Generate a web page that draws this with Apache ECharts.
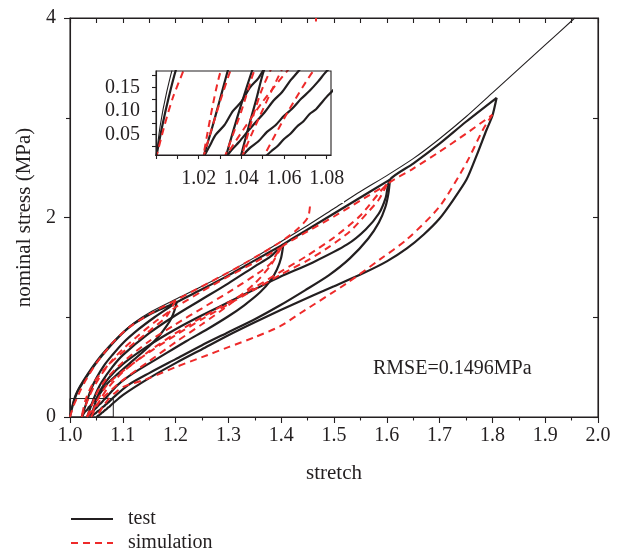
<!DOCTYPE html>
<html>
<head>
<meta charset="utf-8">
<script src="https://cdn.jsdelivr.net/npm/echarts@6.0.0/dist/echarts.min.js"></script>
<style>
  html, body { margin: 0; padding: 0; background: #ffffff; }
  #chart { width: 624px; height: 552px; }
</style>
</head>
<body>
<div id="chart"></div>
<script>
// ---- measured curves: stretch (x) vs nominal stress in MPa (y) ----
// test: monotonic loading
const testMonoX = [1.000,1.002,1.005,1.009,1.015,1.025,1.040,1.060,1.090,1.120,1.155,1.200,1.250,1.300,1.350,1.400,1.450,1.500,1.550,1.600,1.650,1.700,1.750,1.800,1.850,1.900,1.956];
const testMonoY = [0,0.07,0.14,0.21,0.28,0.37,0.49,0.63,0.80,0.94,1.06,1.18,1.31,1.45,1.60,1.76,1.92,2.09,2.26,2.42,2.59,2.79,3.01,3.25,3.49,3.73,4.00];
// test: cyclic loading / unloading
const testLoad1X = [1.000,1.003,1.006,1.0095,1.015,1.025,1.040,1.060,1.090,1.120,1.155,1.180,1.202];
const testLoad1Y = [0,0.07,0.13,0.19,0.26,0.35,0.47,0.61,0.79,0.93,1.04,1.10,1.15];
const testUnload1X = [1.202,1.198,1.192,1.184,1.170,1.150,1.120,1.090,1.070,1.052,1.048,1.044,1.040,1.036,1.032,1.028,1.025,1.022];
const testUnload1Y = [1.15,1.07,0.99,0.92,0.82,0.71,0.57,0.43,0.33,0.20,0.17,0.15,0.12,0.10,0.07,0.05,0.025,0];
const testLoad2X = [1.022,1.026,1.030,1.0336,1.040,1.050,1.065,1.080,1.100,1.130,1.160,1.185,1.202,1.250,1.300,1.350,1.404];
const testLoad2Y = [0,0.06,0.125,0.185,0.28,0.39,0.52,0.62,0.74,0.88,1.00,1.09,1.15,1.28,1.42,1.57,1.73];
const testUnload2X = [1.404,1.400,1.392,1.380,1.360,1.330,1.300,1.260,1.220,1.170,1.120,1.090,1.0668,1.063,1.059,1.055,1.051,1.047,1.043,1.039,1.0355,1.0325];
const testUnload2Y = [1.73,1.60,1.48,1.37,1.25,1.12,1.01,0.88,0.76,0.60,0.44,0.32,0.185,0.165,0.14,0.122,0.098,0.078,0.057,0.035,0.018,0];
const testLoad3X = [1.0325,1.036,1.040,1.045,1.052,1.060,1.080,1.100,1.150,1.200,1.250,1.300,1.350,1.380,1.404,1.450,1.500,1.550,1.606];
const testLoad3Y = [0,0.055,0.115,0.185,0.27,0.35,0.50,0.62,0.84,1.02,1.18,1.34,1.51,1.61,1.73,1.88,2.04,2.20,2.38];
const testUnload3X = [1.606,1.603,1.597,1.585,1.565,1.530,1.490,1.445,1.398,1.350,1.300,1.250,1.200,1.150,1.110,1.080,1.076,1.072,1.068,1.064,1.060,1.056,1.052,1.048,1.044,1.0395];
const testUnload3Y = [2.38,2.24,2.10,1.95,1.79,1.59,1.42,1.27,1.12,0.98,0.85,0.72,0.58,0.44,0.32,0.185,0.163,0.143,0.126,0.106,0.09,0.07,0.056,0.036,0.022,0];
const testLoad4X = [1.0395,1.043,1.047,1.0505,1.060,1.075,1.100,1.150,1.200,1.250,1.300,1.350,1.400,1.460,1.525,1.560,1.585,1.598,1.606,1.650,1.700,1.750,1.808];
const testLoad4Y = [0,0.06,0.125,0.185,0.29,0.40,0.53,0.72,0.88,1.02,1.15,1.28,1.41,1.55,1.73,1.88,2.04,2.20,2.38,2.54,2.74,2.96,3.20];
const testUnload4X = [1.808,1.800,1.789,1.770,1.751,1.725,1.700,1.670,1.638,1.600,1.555,1.500,1.461,1.398,1.350,1.300,1.250,1.200,1.150,1.100,1.081,1.078,1.075,1.072,1.069,1.066,1.063,1.060,1.057,1.054,1.0503];
const testUnload4Y = [3.20,3.02,2.88,2.62,2.38,2.17,1.99,1.83,1.69,1.56,1.44,1.31,1.22,1.07,0.95,0.82,0.68,0.54,0.39,0.22,0.135,0.12,0.104,0.094,0.078,0.067,0.052,0.041,0.026,0.015,0];

// simulation: monotonic loading
const simMonoX = [1.000,1.004,1.008,1.0128,1.020,1.030,1.050,1.080,1.110,1.150,1.200,1.250,1.300,1.350,1.400,1.430,1.452,1.457,1.461,1.466];
const simMonoY = [0,0.07,0.13,0.185,0.27,0.37,0.54,0.74,0.89,1.03,1.17,1.31,1.45,1.60,1.76,1.88,2.02,2.50,3.10,4.00];
// simulation: cyclic loading / unloading
const simUnload1X = [1.200,1.183,1.152,1.114,1.076,1.044,1.030,1.022];
const simUnload1Y = [1.17,1.01,0.87,0.71,0.54,0.34,0.18,0];
const simLoad2X = [1.022,1.030,1.036,1.045,1.060,1.080,1.100,1.130,1.160,1.200,1.250,1.300,1.350,1.400];
const simLoad2Y = [0,0.12,0.20,0.30,0.43,0.57,0.68,0.82,0.95,1.10,1.26,1.41,1.55,1.70];
const simUnload2X = [1.400,1.380,1.350,1.300,1.250,1.200,1.150,1.100,1.070,1.050,1.032];
const simUnload2Y = [1.70,1.52,1.34,1.12,0.93,0.75,0.56,0.37,0.23,0.12,0];
const simLoad3X = [1.032,1.040,1.046,1.055,1.070,1.100,1.150,1.200,1.250,1.300,1.350,1.380,1.400,1.450,1.500,1.550,1.600];
const simLoad3Y = [0,0.10,0.185,0.28,0.39,0.55,0.76,0.93,1.09,1.25,1.42,1.54,1.70,1.86,2.01,2.17,2.33];
const simUnload3X = [1.600,1.585,1.562,1.530,1.492,1.450,1.400,1.350,1.300,1.250,1.200,1.150,1.100,1.070,1.050,1.040];
const simUnload3Y = [2.33,2.18,2.04,1.86,1.71,1.57,1.43,1.28,1.13,0.98,0.82,0.65,0.46,0.32,0.15,0];
const simLoad4X = [1.040,1.045,1.057,1.070,1.100,1.150,1.200,1.250,1.300,1.350,1.400,1.450,1.500,1.550,1.600,1.650,1.700,1.750,1.800];
const simLoad4Y = [0,0.053,0.17,0.28,0.45,0.66,0.84,1.00,1.15,1.30,1.46,1.62,1.80,2.02,2.33,2.49,2.66,2.84,3.03];
const simUnload4X = [1.800,1.782,1.751,1.700,1.638,1.587,1.524,1.436,1.398,1.350,1.300,1.250,1.200,1.150,1.100,1.085,1.0737,1.062,1.050];
const simUnload4Y = [3.03,2.88,2.55,2.11,1.78,1.58,1.34,1.04,0.91,0.80,0.70,0.60,0.50,0.39,0.30,0.24,0.185,0.10,0];

// axis ranges and ticks
const mainXRange = [1.0, 2.0];
const mainYRange = [0, 4];
const zoomXRange = [1.0, 1.082];
const zoomYRange = [0.007, 0.185];
const zoomXTicks = [1.00,1.01,1.02,1.03,1.04,1.05,1.06,1.07,1.08];
const zoomXLabels = [1.02,1.04,1.06,1.08];
const zoomYTicks = [0.025,0.05,0.075,0.10,0.125,0.15,0.175];
const zoomYLabels = [0.05,0.10,0.15];
const rmseText = 'RMSE=0.1496MPa';

// ---- styling ----
const INK = '#231f20';
const RED = '#ee2a2a';
const FONT = '"Liberation Serif", "DejaVu Serif", serif';
// magnified view: plot box, and the opaque panel that carries it with its labels
const ZOOM_BOX = { left: 156, top: 71, width: 175, height: 84 };
const ZOOM_PANEL = { left: 98, top: 25, width: 246, height: 178 };

const pairs = (xs, ys) => xs.map((x, i) => [x, ys[i]]);

const testCurves = [
  [testLoad1X, testLoad1Y, 2.2],
  [testMonoX, testMonoY, 1.1],
  [testUnload1X, testUnload1Y, 2.2],
  [testLoad2X, testLoad2Y, 2.2],
  [testUnload2X, testUnload2Y, 2.2],
  [testLoad3X, testLoad3Y, 2.2],
  [testUnload3X, testUnload3Y, 2.2],
  [testLoad4X, testLoad4Y, 2.2],
  [testUnload4X, testUnload4Y, 2.2]
];
const simCurves = [
  [simMonoX, simMonoY],
  [simUnload1X, simUnload1Y],
  [simLoad2X, simLoad2Y],
  [simUnload2X, simUnload2Y],
  [simLoad3X, simLoad3Y],
  [simUnload3X, simUnload3Y],
  [simLoad4X, simLoad4Y],
  [simUnload4X, simUnload4Y]
];

const series = [];
[0, 1].forEach(panel => {
  const axisIdx = panel === 0 ? 0 : 2;
  const z = panel === 0 ? 3 : 10;
  testCurves.forEach(([xs, ys, w], i) => {
    const s = {
      name: 'test', type: 'line', xAxisIndex: axisIdx, yAxisIndex: axisIdx,
      data: pairs(xs, ys), symbol: 'none', smooth: 0.25,
      clip: true, silent: true, animation: false, z: z,
      lineStyle: { color: INK, width: w, type: 'solid' }, itemStyle: { color: INK }
    };
    if (panel === 0 && i === 0) {
      // outline of the magnified region
      s.markArea = {
        silent: true,
        itemStyle: { color: 'rgba(0,0,0,0)', borderColor: INK, borderWidth: 1 },
        data: [[{ xAxis: zoomXRange[0], yAxis: mainYRange[0] }, { xAxis: zoomXRange[1], yAxis: zoomYRange[1] }]]
      };
    }
    series.push(s);
  });
  simCurves.forEach(([xs, ys]) => {
    series.push({
      name: 'simulation', type: 'line', xAxisIndex: axisIdx, yAxisIndex: axisIdx,
      data: pairs(xs, ys), symbol: 'none', smooth: 0.25,
      clip: true, silent: true, animation: false, z: z + 1,
      lineStyle: { color: RED, width: 2, type: [7, 5] }, itemStyle: { color: RED }
    });
  });
});

const tickStyle = { color: INK, width: 1.1 };
const labelStyle = { color: INK, fontFamily: FONT, fontSize: 20 };
const nameStyle = { color: INK, fontFamily: FONT, fontSize: 21 };
const legendBase = {
  orient: 'vertical', left: 70, padding: 0, itemWidth: 42, itemHeight: 14,
  selectedMode: false, itemStyle: { opacity: 0 },
  textStyle: { color: INK, fontFamily: FONT, fontSize: 20, lineHeight: 20, padding: [0, 0, 0, 10] }
};

const option = {
  backgroundColor: '#ffffff',
  animation: false,
  grid: [
    { left: 70, top: 18, width: 528, height: 399, show: true, borderColor: INK, borderWidth: 1.1, backgroundColor: 'rgba(0,0,0,0)' },
    { left: ZOOM_BOX.left, top: ZOOM_BOX.top, width: ZOOM_BOX.width, height: ZOOM_BOX.height, show: false }
  ],
  xAxis: [
    {
      gridIndex: 0, type: 'value', position: 'bottom', min: mainXRange[0], max: mainXRange[1], interval: 0.1,
      axisLine: { show: true, onZero: false, lineStyle: tickStyle },
      axisTick: { show: true, inside: false, length: 6, lineStyle: tickStyle },
      minorTick: { show: true, splitNumber: 2, length: 3.5, lineStyle: tickStyle },
      splitLine: { show: false }, minorSplitLine: { show: false },
      axisLabel: Object.assign({ margin: 9, formatter: v => v.toFixed(1) }, labelStyle),
      name: 'stretch', nameLocation: 'middle', nameGap: 46, nameTextStyle: nameStyle
    },
    {
      gridIndex: 0, type: 'value', position: 'top', min: mainXRange[0], max: mainXRange[1], interval: 0.05,
      axisLine: { show: true, onZero: false, lineStyle: tickStyle },
      axisTick: { show: true, inside: true, length: 5, lineStyle: tickStyle },
      axisLabel: { show: false }, splitLine: { show: false }
    },
    {
      gridIndex: 1, type: 'value', min: zoomXRange[0], max: zoomXRange[1], z: 12,
      axisLine: { show: true, onZero: false, lineStyle: tickStyle },
      axisTick: { show: true, inside: false, length: 4, customValues: zoomXTicks, lineStyle: tickStyle },
      axisLabel: Object.assign({ margin: 14, customValues: zoomXLabels, formatter: v => v.toFixed(2) }, labelStyle),
      splitLine: { show: false }
    }
  ],
  yAxis: [
    {
      gridIndex: 0, type: 'value', position: 'left', min: mainYRange[0], max: mainYRange[1], interval: 2,
      axisLine: { show: true, onZero: false, lineStyle: tickStyle },
      axisTick: { show: true, inside: false, length: 6, lineStyle: tickStyle },
      minorTick: { show: true, splitNumber: 2, length: 4, lineStyle: tickStyle },
      splitLine: { show: false }, minorSplitLine: { show: false },
      axisLabel: Object.assign({ margin: 14, formatter: v => String(v) }, labelStyle),
      name: 'nominal stress (MPa)', nameLocation: 'middle', nameGap: 33, nameRotate: 90, nameTextStyle: nameStyle
    },
    {
      gridIndex: 0, type: 'value', position: 'right', min: mainYRange[0], max: mainYRange[1], interval: 1,
      axisLine: { show: true, onZero: false, lineStyle: tickStyle },
      axisTick: { show: true, inside: true, length: 5, lineStyle: tickStyle },
      axisLabel: { show: false }, splitLine: { show: false }
    },
    {
      gridIndex: 1, type: 'value', min: zoomYRange[0], max: zoomYRange[1], z: 12,
      axisLine: { show: true, onZero: false, lineStyle: tickStyle },
      axisTick: { show: true, inside: false, length: 4, customValues: zoomYTicks, lineStyle: tickStyle },
      axisLabel: Object.assign({ margin: 16, customValues: zoomYLabels, formatter: v => v.toFixed(2) }, labelStyle),
      splitLine: { show: false }
    }
  ],
  legend: [
    Object.assign({ top: 509, data: ['test'] }, legendBase),
    Object.assign({ top: 533, data: ['simulation'] }, legendBase)
  ],
  graphic: [
    {
      type: 'rect', z: 5, silent: true,
      shape: { x: ZOOM_PANEL.left, y: ZOOM_PANEL.top, width: ZOOM_PANEL.width, height: ZOOM_PANEL.height },
      style: { fill: '#ffffff', stroke: null }
    },
    {
      type: 'rect', z: 13, silent: true,
      shape: { x: ZOOM_BOX.left, y: ZOOM_BOX.top, width: ZOOM_BOX.width, height: ZOOM_BOX.height },
      style: { fill: null, stroke: INK, lineWidth: 1.1 }
    },
    {
      type: 'text', z: 13, silent: true, x: 373, y: 369,
      style: { text: rmseText, fill: INK, font: '20px ' + FONT, verticalAlign: 'middle' }
    }
  ],
  series: series
};

const chart = echarts.init(document.getElementById('chart'), null, { renderer: 'canvas' });
chart.setOption(option);
</script>
</body>
</html>
